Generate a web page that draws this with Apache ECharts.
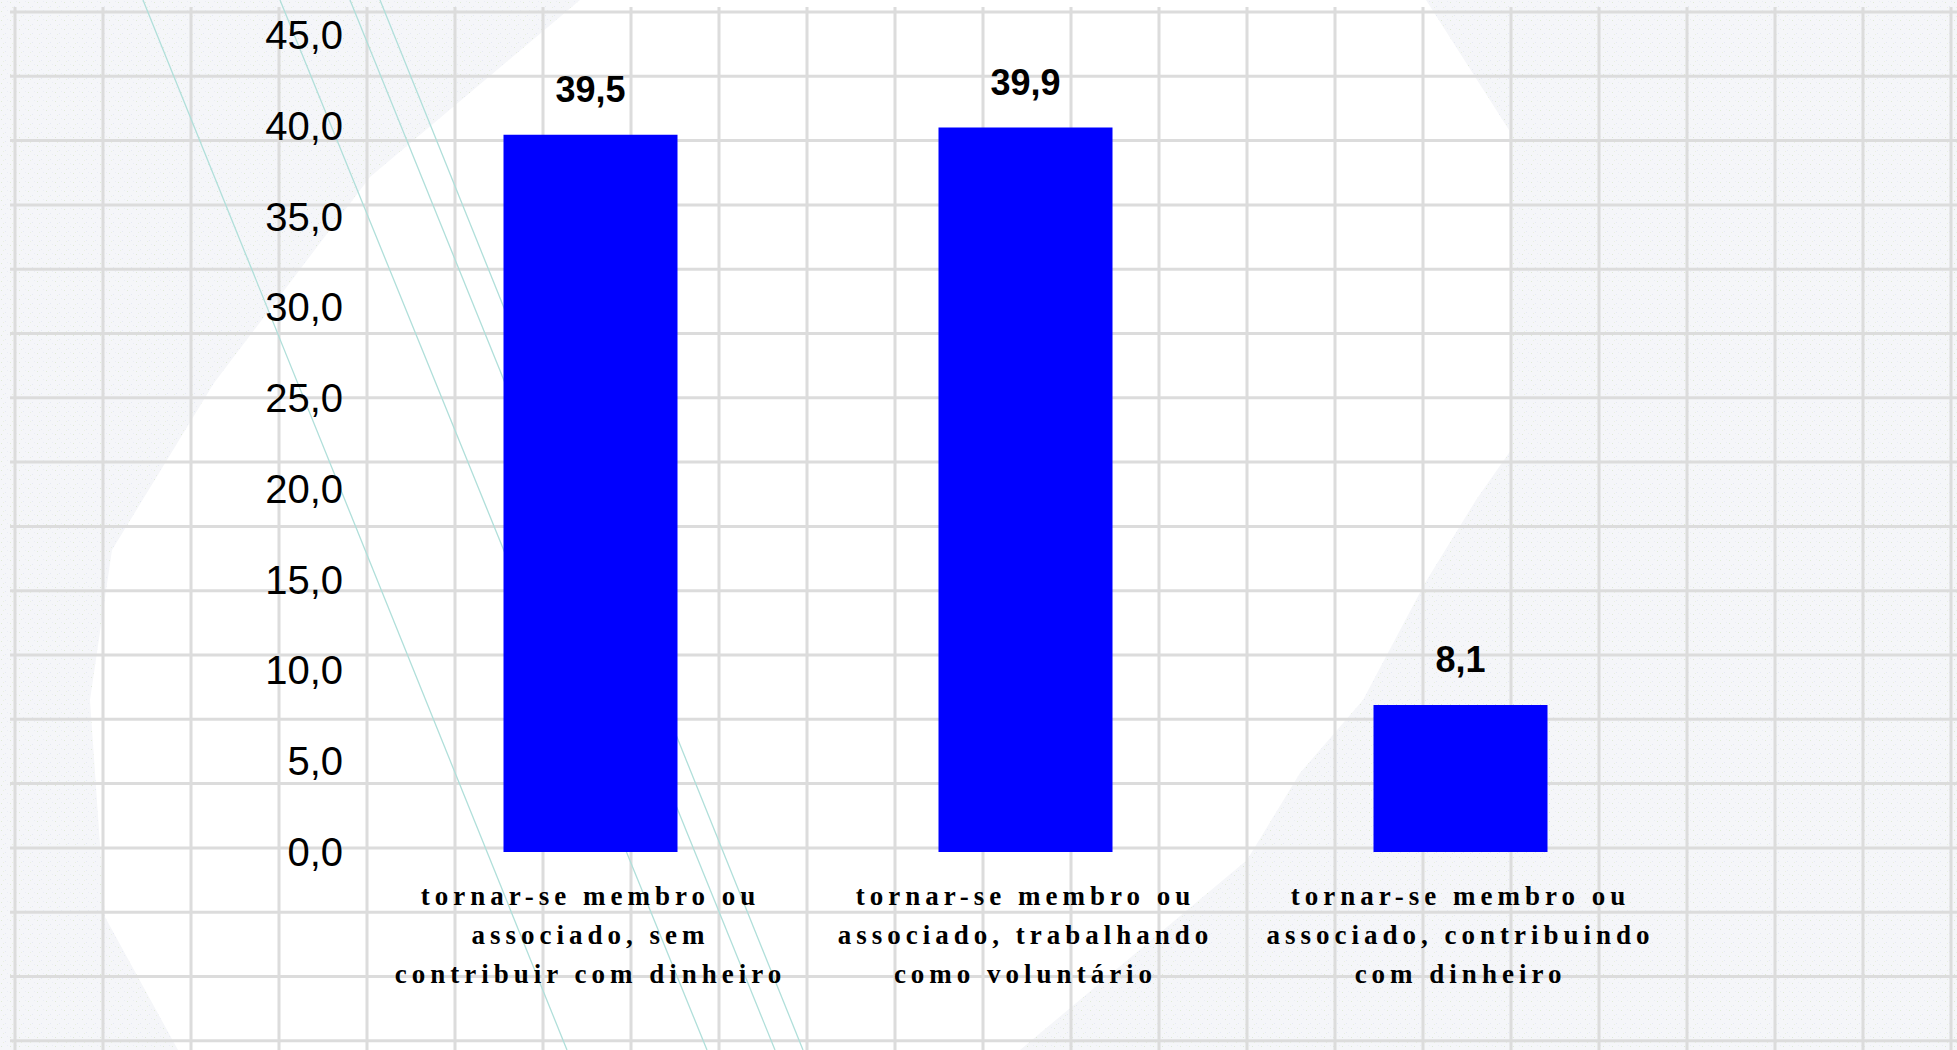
<!DOCTYPE html>
<html>
<head>
<meta charset="utf-8">
<script src="https://cdn.jsdelivr.net/npm/echarts@6/dist/echarts.min.js"></script>
<style>
  html, body { margin: 0; padding: 0; width: 1957px; height: 1050px; overflow: hidden; background: #ffffff; }
  #bg { position: absolute; left: 0; top: 0; width: 1957px; height: 1050px; }
  #chart { position: absolute; left: 0; top: 0; width: 1957px; height: 1050px; }
  #chart text[style*="Serif"] { letter-spacing: 5px; }
</style>
</head>
<body>
<svg id="bg" xmlns="http://www.w3.org/2000/svg" width="1957" height="1050">
  <defs>
    <pattern id="tex" width="9" height="9" patternUnits="userSpaceOnUse">
      <rect width="9" height="9" fill="#f5f6f9"/>
      <rect x="1" y="2" width="1" height="1" fill="#dfe9d6"/>
      <rect x="5" y="6" width="1" height="1" fill="#e5e9f3"/>
      <rect x="7" y="1" width="1" height="1" fill="#eaedf5"/>
      <rect x="3" y="7" width="1" height="1" fill="#e9efe2"/>
    </pattern>
  </defs>
  <rect width="1957" height="1050" fill="url(#tex)"/>
  <path d="M580,0 L1426,0 L1509,130 L1511,450 L1476,500 L1425,583 L1363,700 L1300,773 L1247,860 L1020,1050 L178,1050 L105,917 L90,700 L112,550 L214,383 L370,177 Z" fill="#ffffff"/>
  <g id="gridlines" stroke="#dcdcdc" stroke-width="3"></g>
  <g stroke="#b0dfda" stroke-width="1.3" fill="none">
    <line x1="143" y1="0" x2="567" y2="1050"/>
    <line x1="280" y1="0" x2="707" y2="1050"/>
    <line x1="350" y1="0" x2="775" y2="1050"/>
    <line x1="380" y1="0" x2="803" y2="1050"/>
  </g>
</svg>
<div id="chart"></div>
<script>
// ---- data ----
const categories = [
  "tornar-se membro ou\nassociado, sem\ncontribuir com dinheiro",
  "tornar-se membro ou\nassociado, trabalhando\ncomo voluntário",
  "tornar-se membro ou\nassociado, contribuindo\ncom dinheiro"
];
const values = [39.5, 39.9, 8.1];
const yMin = 0, yMax = 45, yStep = 5;

// ---- decorative background grid ----
(function () {
  const g = document.getElementById('gridlines');
  const ns = 'http://www.w3.org/2000/svg';
  for (let x = 15; x < 1957; x += 88) {
    const l = document.createElementNS(ns, 'line');
    l.setAttribute('x1', x); l.setAttribute('x2', x);
    l.setAttribute('y1', 7); l.setAttribute('y2', 1050);
    g.appendChild(l);
  }
  for (let y = 12; y < 1050; y += 64.3) {
    const l = document.createElementNS(ns, 'line');
    l.setAttribute('x1', 10); l.setAttribute('x2', 1957);
    l.setAttribute('y1', y); l.setAttribute('y2', y);
    g.appendChild(l);
  }
})();

const fmt = v => Number(v).toFixed(1).replace('.', ',');

const chart = echarts.init(document.getElementById('chart'), null, { renderer: 'svg' });
chart.setOption({
  backgroundColor: 'transparent',
  animation: false,
  grid: { left: 373, right: 279, top: 35, bottom: 198, containLabel: false, outerBoundsMode: 'none' },
  xAxis: {
    type: 'category',
    data: categories,
    axisLine: { show: false },
    axisTick: { show: false },
    splitLine: { show: false },
    axisLabel: {
      interval: 0,
      margin: 24,
      color: '#000000',
      fontFamily: 'Liberation Serif',
      fontWeight: 'bold',
      fontSize: 27,
      lineHeight: 39,
      align: 'center'
    }
  },
  yAxis: {
    type: 'value',
    min: yMin,
    max: yMax,
    interval: yStep,
    axisLine: { show: false },
    axisTick: { show: false },
    splitLine: { show: false },
    axisLabel: {
      margin: 30,
      color: '#000000',
      fontFamily: 'Liberation Sans',
      fontSize: 40,
      formatter: fmt
    }
  },
  series: [{
    type: 'bar',
    data: values,
    barWidth: 174,
    itemStyle: { color: '#0000ff' },
    label: {
      show: true,
      position: 'top',
      distance: 27,
      color: '#000000',
      fontFamily: 'Liberation Sans',
      fontWeight: 'bold',
      fontSize: 36,
      formatter: p => fmt(p.value)
    }
  }]
});
</script>
</body>
</html>
